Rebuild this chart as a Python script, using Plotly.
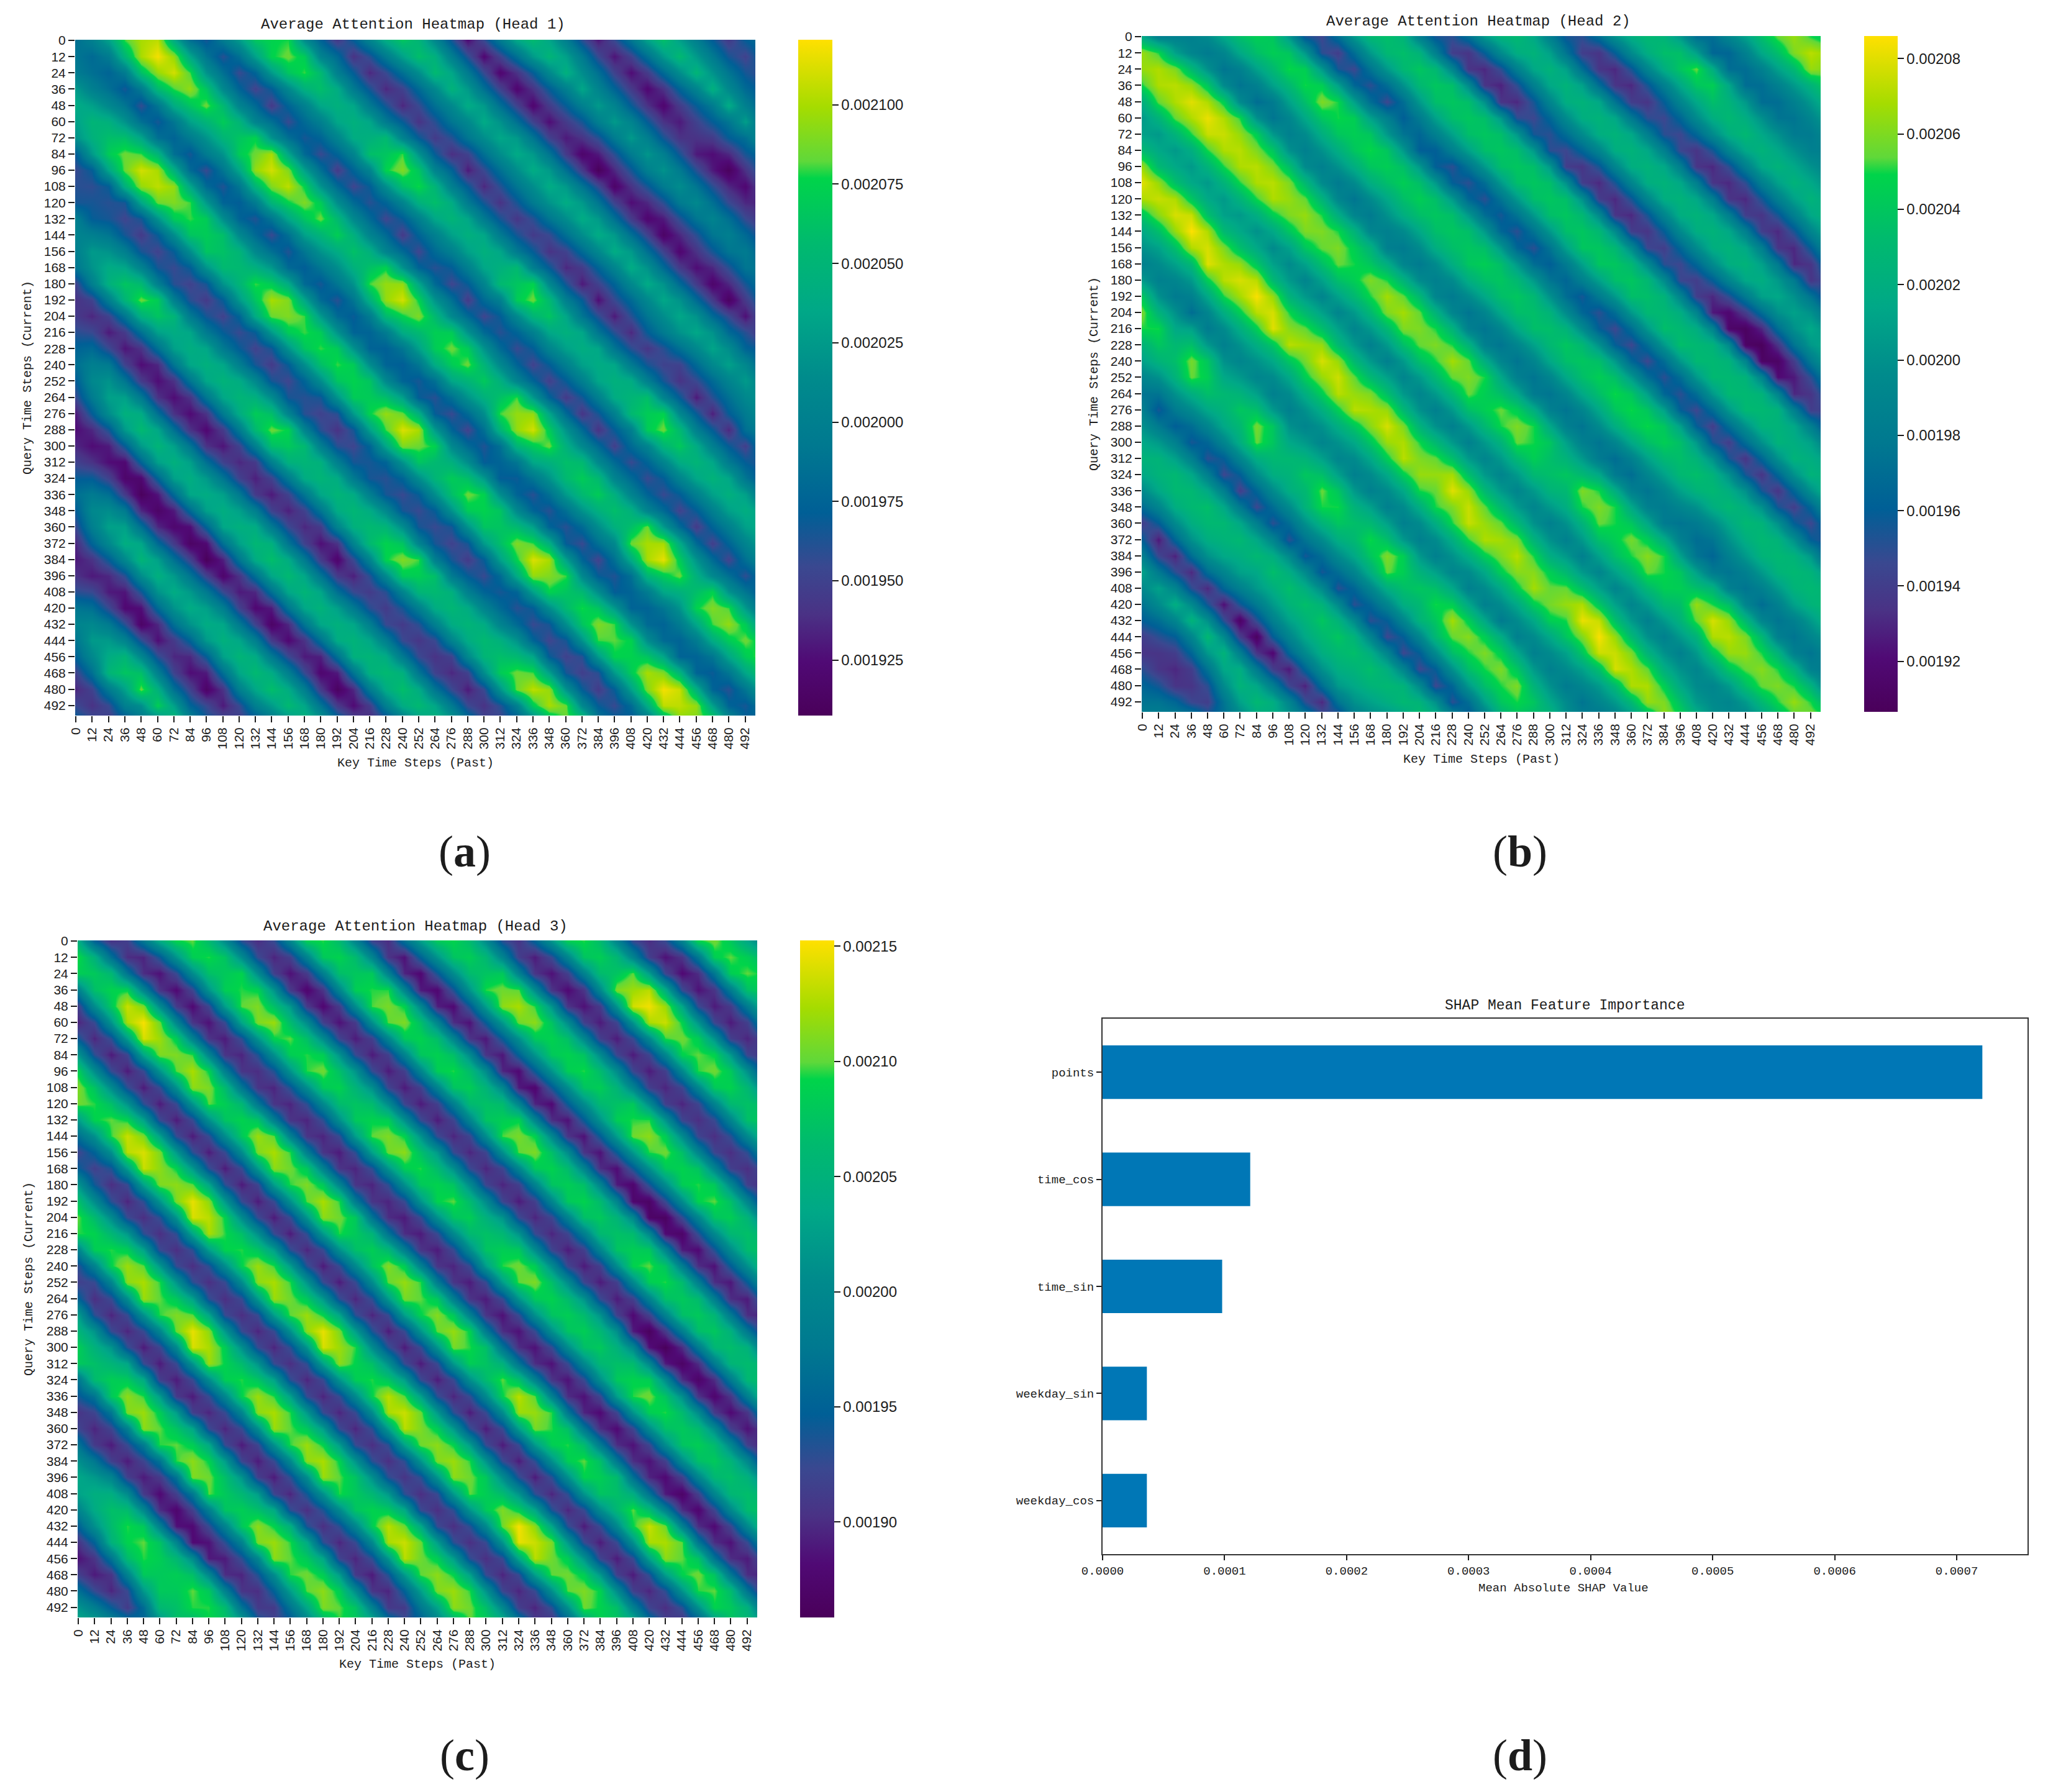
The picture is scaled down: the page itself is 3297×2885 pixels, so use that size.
import plotly.graph_objects as go

W, H = 3297, 2885
PAGE = 8
FW, FH = W - PAGE, H - PAGE
ML, MR, MT, MB = 60, 10, 30, 10
STEP = 12
N = 43
SAMPLE_POS = [i * STEP + 0.5 for i in range(N)]
TICK_POS = [i * 12 + 0.5 for i in range(42)]
TICK_TEXT = [str(i * 12) for i in range(42)]

# Readings per diagonal (column index minus row index), in millionths above a base value.
HEAD1_BASE = 1900
HEAD1 = {
-42:[75],-41:[55,60],-40:[35,40,45],-39:[50,50,55,60],-38:[75,85,95,100,90],
-37:[90,110,150,130,115,100],-36:[105,125,140,165,185,172,160],-35:[90,110,125,150,160,145,130,110],
-34:[60,85,95,105,110,100,85,75,70],-33:[40,55,55,60,60,60,50,50,55,60],
-32:[30,30,30,22,15,25,35,25,15,30,45],-31:[35,40,35,28,25,35,45,35,30,40,55,60],
-30:[55,75,70,60,65,80,85,75,70,85,100,100,90],-29:[70,100,110,110,115,120,120,120,125,130,135,135,125,115],
-28:[85,110,130,142,150,145,140,140,140,145,150,155,160,155,150],
-27:[70,95,115,130,135,130,125,125,130,135,135,140,140,140,135,130],
-26:[50,70,85,95,85,80,85,90,95,100,95,100,95,100,100,90,85],
-25:[35,40,50,45,35,35,45,50,50,55,50,50,45,55,55,45,45,55],
-24:[25,25,25,18,10,15,20,14,8,18,30,22,15,22,30,20,12,24,35],
-23:[30,35,30,22,20,28,30,25,22,32,40,35,30,35,40,32,30,35,45,50],
-22:[55,70,65,70,75,75,80,80,75,85,90,85,85,90,90,85,85,90,95,100,90],
-21:[70,95,115,125,125,130,130,135,130,135,130,140,135,135,135,135,140,145,145,140,140,125],
-20:[85,110,130,145,155,150,145,142,140,142,145,152,160,155,150,148,145,148,150,155,160,155,150],
-19:[75,100,120,130,140,135,130,130,125,130,130,140,145,140,135,135,130,135,135,140,145,140,135,130],
-18:[60,80,95,90,95,85,85,90,85,90,95,100,95,90,95,90,85,95,100,100,95,90,90,95,90],
-17:[45,55,55,50,45,40,40,40,40,50,50,45,50,55,50,45,45,55,60,55,55,55,50,55,55,55],
-16:[40,35,30,28,25,25,25,24,22,28,35,32,30,32,35,26,18,32,45,45,45,42,40,35,30,40,50],
-15:[50,50,50,45,40,35,40,40,40,45,50,45,50,50,50,45,40,55,60,60,65,60,55,50,50,55,60,65],
-14:[90,100,100,90,85,85,90,90,90,95,95,100,100,95,90,90,105,105,105,110,105,100,100,105,110,115,120,100,95],
-13:[100,120,145,150,145,130,130,135,135,135,140,155,160,145,140,135,140,145,155,175,170,150,140,140,140,150,170,185,170,150],
-12:[105,125,140,165,185,165,140,142,145,148,150,170,185,168,150,150,150,152,155,175,190,172,155,152,150,155,160,185,205,200,185],
-11:[100,100,120,135,155,170,150,135,135,135,140,145,160,175,155,145,140,140,140,150,165,180,160,145,140,140,145,155,180,195,185,175],
-10:[65,70,90,100,105,100,100,95,95,95,100,110,115,105,105,100,100,95,100,110,115,105,100,95,100,105,105,120,135,130,120,110,95],
-9:[60,65,65,65,65,65,60,60,65,70,70,65,65,65,60,60,60,65,65,65,65,65,65,65,70,75,80,80,75,70,65,70,70,75],
-8:[55,58,60,52,45,50,55,50,45,50,55,50,45,52,60,50,40,52,65,60,55,55,55,50,45,55,65,60,55,52,50,48,45,55,65],
-7:[70,70,70,65,65,70,70,70,65,70,75,70,65,70,75,65,60,65,75,75,75,70,70,65,65,70,80,75,70,65,65,60,60,70,80,85],
-6:[120,125,135,145,135,120,115,115,120,120,125,140,125,120,115,115,120,125,130,135,120,115,115,120,120,125,130,140,130,115,115,120,125,125,130,140,135],
-5:[130,145,170,185,195,185,170,165,165,155,150,165,185,170,165,160,165,170,175,180,190,165,150,160,170,165,160,175,195,175,155,165,180,175,170,190,205,190],
-4:[140,150,160,185,210,205,190,180,170,162,155,180,200,190,180,180,180,175,170,195,212,185,155,170,185,175,165,190,212,190,165,178,190,182,175,200,218,205,190],
-3:[125,130,145,160,180,200,195,180,170,160,150,145,170,190,180,170,170,170,165,160,185,200,175,145,160,175,165,155,180,200,180,155,165,180,175,165,190,208,195,180],
-2:[95,100,110,120,135,150,145,135,125,115,110,110,125,140,135,125,120,120,115,110,130,145,125,110,115,125,115,110,130,145,130,110,115,125,120,115,135,150,145,130,120],
-1:[90,85,85,90,85,85,85,80,80,75,75,80,85,80,80,80,80,75,75,75,75,70,70,75,80,70,70,75,75,75,70,75,70,70,75,80,80,75,75,75,75,75],
0:[85,80,75,65,57,65,75,65,55,62,70,62,55,62,70,65,60,68,75,72,70,65,60,55,50,62,75,68,60,60,60,55,50,62,75,75,75,75,75,68,60,65,70],
1:[100,95,95,95,90,90,95,95,90,90,95,90,85,90,90,90,90,95,95,90,90,85,85,80,85,85,90,90,85,85,80,85,85,85,95,90,95,95,90,90,90,90],
2:[130,150,160,155,140,130,120,120,135,150,150,135,130,120,115,120,145,155,140,130,140,135,120,115,150,150,135,120,125,120,115,110,140,150,135,120,135,140,135,135,130],
3:[180,200,195,180,165,150,150,170,195,190,175,165,150,140,145,180,195,175,155,170,170,150,145,180,195,170,145,155,155,145,145,185,200,170,145,175,180,170,170,165],
4:[200,218,210,195,185,170,165,185,210,205,190,185,172,162,162,195,210,190,172,185,185,168,162,195,210,185,160,170,170,160,160,200,215,185,160,190,195,185,185],
5:[205,195,180,165,155,150,175,200,190,175,170,155,145,145,175,195,175,155,170,170,150,145,180,195,170,145,155,155,145,145,185,200,170,145,175,180,170,170],
6:[140,135,120,110,105,105,120,135,130,120,115,110,105,105,120,135,120,110,120,120,110,105,125,135,120,110,110,105,105,105,125,140,120,110,120,125,120],
7:[85,90,85,75,80,85,85,80,85,80,80,80,80,80,75,80,85,80,80,80,75,75,75,80,80,80,80,80,75,80,80,80,80,85,90,85],
8:[65,60,55,50,45,55,65,55,45,52,60,52,45,52,60,52,45,52,60,55,50,48,45,42,40,48,55,55,55,50,45,48,50,58,65],
9:[95,85,75,70,75,80,75,75,75,70,75,70,75,80,70,70,80,70,75,70,70,70,65,65,70,80,75,70,70,70,75,75,85,85],
10:[125,130,125,110,100,100,105,105,105,115,105,100,100,100,100,105,100,110,100,105,100,100,100,100,100,105,105,105,100,100,100,105,110],
11:[165,175,165,145,135,135,140,160,175,160,145,135,130,130,135,155,170,150,135,130,130,135,140,155,170,150,140,135,130,130,130,130],
12:[175,185,180,160,145,145,145,165,190,178,160,150,145,145,145,165,185,165,145,142,140,145,150,170,185,168,150,148,145,142,140],
13:[178,170,155,140,135,135,155,180,165,150,140,135,135,135,155,175,155,135,135,135,135,140,160,175,155,140,135,135,130,130],
14:[115,105,100,95,95,95,105,120,105,100,95,95,95,95,100,110,100,90,90,90,95,100,105,110,100,100,95,90,90],
15:[75,80,70,65,65,70,70,70,75,70,65,65,65,70,70,65,70,60,60,60,65,65,70,70,70,70,70,65],
16:[45,40,35,35,35,40,45,38,30,35,40,42,45,40,35,30,25,30,35,42,50,40,30,32,35,48,60],
17:[70,60,55,50,55,60,60,50,55,60,65,60,55,50,45,50,55,60,70,60,50,55,60,70,85,90],
18:[105,95,85,80,85,90,90,85,85,90,95,90,85,80,75,75,80,90,95,85,80,80,85,95,100],
19:[140,130,115,110,110,110,115,115,115,115,120,115,115,110,105,110,110,115,120,110,110,105,110,115],
20:[165,160,155,148,140,138,135,138,140,140,140,140,140,140,140,138,135,135,135,133,130,125,120],
21:[150,145,135,125,125,120,125,125,125,125,125,125,125,125,120,120,120,120,120,115,110,105],
22:[110,100,95,85,85,85,90,90,85,90,90,85,85,85,80,80,80,80,80,75,75],
23:[65,60,55,50,50,50,50,45,45,55,50,45,50,50,45,45,45,55,60,65],
24:[25,22,20,20,20,25,30,18,8,16,25,20,15,20,25,18,12,26,40],
25:[55,50,40,40,45,45,40,30,35,40,35,30,35,40,35,35,45,60],
26:[95,85,70,70,70,65,60,60,65,65,60,60,60,65,60,65,75],
27:[135,125,110,100,100,100,95,95,100,95,95,90,90,90,90,90],
28:[155,150,145,135,125,125,125,122,120,115,110,105,100,95,90],
29:[135,130,115,105,105,105,100,100,95,90,85,85,80,75],
30:[100,95,85,75,70,70,65,65,60,60,55,55,55],
31:[60,55,50,45,40,40,40,30,30,35,35,40],
32:[30,28,25,22,20,30,40,25,10,22,35],
33:[55,50,45,40,45,50,45,35,40,50],
34:[90,85,80,75,70,70,70,65,70],
35:[130,125,115,105,95,90,85,80],
36:[160,155,150,145,140,128,115],
37:[130,125,120,110,100,85],
38:[100,95,90,80,75],
39:[70,65,65,65],
40:[45,50,55],
41:[70,75],
42:[85],
}

HEAD2_BASE = 1900
HEAD2 = {
-42:[85],-41:[75,85],-40:[65,75,85],-39:[50,55,65,85],-38:[35,35,35,45,60],-37:[40,35,30,35,40,70],
-36:[60,50,40,40,50,75,90],-35:[75,70,60,65,75,95,110,115],-34:[95,95,90,90,105,115,125,130,120],
-33:[110,110,120,125,130,125,120,115,120,105],-32:[85,80,90,95,100,95,85,80,85,90,85],
-31:[60,45,50,50,55,50,40,35,40,45,50,55],-30:[40,25,28,30,30,22,12,10,18,25,28,30,40],
-29:[70,60,65,70,70,65,55,50,60,65,65,70,75,80],-28:[95,90,95,100,100,90,85,80,85,90,95,100,105,100,95],
-27:[115,115,120,120,120,115,110,105,105,110,115,120,120,115,110,100],
-26:[125,125,130,130,130,125,120,115,120,125,125,130,130,125,125,120,110],
-25:[115,125,130,130,135,130,130,130,135,135,135,140,140,135,135,130,130,135],
-24:[100,105,110,115,115,115,115,115,120,120,120,125,125,125,120,120,125,125,125],
-23:[85,80,85,85,85,85,80,85,90,95,95,95,95,95,90,90,90,95,100,100],
-22:[75,55,60,55,50,45,40,45,50,50,55,55,50,50,50,45,45,45,45,50,55],
-21:[90,75,80,70,65,60,60,65,70,70,75,70,70,65,65,60,60,60,60,65,70,80],
-20:[110,100,100,95,90,90,90,95,95,95,100,95,95,90,90,90,90,90,95,100,105,110,120],
-19:[125,125,125,120,115,115,120,120,120,120,125,125,120,115,120,120,120,125,130,135,135,135,140,135],
-18:[150,140,135,155,135,125,130,155,130,125,130,150,140,130,140,155,135,130,140,155,150,150,150,150,130],
-17:[158,150,130,158,145,130,140,158,140,130,140,155,150,135,150,160,145,140,150,168,162,160,160,160,140,130],
-16:[140,125,115,135,140,115,125,135,140,115,125,135,140,125,130,135,145,125,135,145,145,145,145,140,125,115,100],
-15:[105,100,100,110,105,100,105,110,105,100,105,110,110,105,110,110,105,105,110,115,115,115,120,115,105,100,95,85],
-14:[85,85,80,70,80,85,90,90,85,85,90,90,90,85,85,85,85,85,85,90,85,85,80,85,85,85,80,75,75],
-13:[100,95,90,85,90,95,100,100,95,95,100,100,100,95,95,95,95,95,95,100,95,95,95,95,95,95,95,90,90,85],
-12:[115,110,110,105,115,120,120,120,115,115,120,120,120,115,115,115,115,120,120,120,120,115,115,115,115,115,110,110,105,105,100],
-11:[140,135,135,130,145,150,145,145,140,140,145,145,145,140,140,145,145,150,150,150,150,145,145,145,145,145,140,140,135,130,130,125],
-10:[170,162,165,170,180,172,168,172,180,172,158,165,172,172,162,166,172,165,155,160,175,170,160,162,168,158,150,160,176,178,170,165,165],
-9:[180,175,178,186,178,170,178,185,178,162,168,178,176,165,170,178,170,160,165,180,175,165,168,172,162,155,165,182,185,175,170,170,160,150],
-8:[165,165,170,175,170,160,165,172,165,150,155,165,165,155,160,165,160,150,155,168,165,155,155,160,150,145,155,170,175,165,160,155,145,135,125],
-7:[130,130,135,140,135,130,135,140,130,125,130,135,130,130,130,135,130,125,130,135,135,130,130,130,125,120,130,135,140,135,130,125,120,115,105,100],
-6:[110,115,115,115,115,110,115,115,110,105,105,110,110,105,105,110,105,100,100,105,105,105,105,105,100,100,105,105,110,110,105,100,100,100,95,95,95],
-5:[105,105,105,105,105,105,105,100,95,95,90,90,90,90,85,85,90,90,85,85,85,90,90,90,90,85,85,85,90,90,90,85,85,85,90,90,90,90],
-4:[120,125,125,120,125,125,125,120,115,110,110,110,110,105,105,105,105,105,105,105,105,105,105,105,105,105,100,105,110,110,105,105,105,105,105,110,105,105,105],
-3:[150,155,155,150,150,150,150,150,145,140,140,135,135,130,130,130,135,135,130,130,135,130,125,130,130,125,120,125,135,135,130,130,130,125,125,140,140,135,130,130],
-2:[165,170,170,170,175,170,170,170,170,160,160,155,155,145,150,160,160,155,150,155,155,145,150,155,145,135,130,150,155,145,150,155,145,135,155,170,165,155,155,150,150],
-1:[165,170,172,180,182,175,172,172,172,165,165,160,160,150,160,168,168,160,160,168,160,145,155,160,150,135,140,160,160,150,158,162,150,145,165,178,172,165,162,160,165,160],
0:[115,150,160,165,170,170,165,160,160,160,155,150,150,145,140,150,155,155,150,150,155,150,135,145,150,140,125,130,150,150,140,145,150,140,135,150,165,160,150,150,150,150,155],
1:[85,110,130,140,145,150,145,140,135,130,125,120,125,125,120,125,130,125,125,125,120,115,115,120,115,110,105,115,120,115,115,120,110,110,125,135,130,130,125,125,125,125],
2:[85,90,100,95,95,100,105,100,95,95,90,90,90,85,90,95,90,90,85,85,90,85,80,85,85,85,80,80,85,85,80,85,75,80,85,90,90,85,85,85,85],
3:[85,80,75,75,70,75,85,85,85,80,75,80,85,80,80,85,80,75,75,75,75,75,75,75,75,75,70,70,75,80,75,70,65,75,75,70,75,75,75,80],
4:[95,90,85,85,80,90,95,100,100,95,95,100,95,95,95,95,95,90,90,90,90,90,90,90,95,90,85,90,90,90,80,75,85,85,85,85,85,90,90],
5:[115,115,110,110,110,115,120,120,120,120,115,120,115,120,120,120,115,115,115,110,115,115,115,115,120,115,110,110,110,100,95,100,105,105,105,110,105,105],
6:[135,135,130,130,135,140,140,140,140,135,135,135,135,135,140,135,135,135,135,130,135,135,135,140,140,135,130,130,125,120,115,120,125,125,125,125,125],
7:[145,145,150,150,160,150,145,150,145,145,145,140,140,140,145,140,140,135,135,140,140,145,150,150,150,145,135,135,130,130,130,130,130,130,130,130],
8:[140,140,145,145,150,145,140,140,135,135,135,135,135,135,135,130,130,125,125,130,135,135,140,140,140,135,125,125,120,120,125,125,125,125,125],
9:[105,105,105,110,110,110,105,105,105,105,105,105,105,105,105,105,100,95,95,100,105,105,110,110,110,105,100,100,100,100,100,100,105,105],
10:[55,50,55,65,70,85,75,60,60,60,65,70,65,65,70,75,70,65,60,60,65,70,65,60,60,55,55,55,55,55,60,60,60],
11:[45,40,45,50,45,60,65,60,50,50,50,55,50,50,60,65,55,50,45,45,45,50,50,45,40,40,35,35,35,40,45,50],
12:[70,70,75,70,70,80,85,85,75,70,75,75,75,75,80,85,80,70,70,70,70,70,70,70,70,70,65,65,65,65,70],
13:[105,105,105,100,105,110,110,110,105,105,105,105,105,110,110,110,105,105,105,105,105,105,105,105,100,100,100,100,100,100],
14:[130,130,130,130,135,135,135,135,135,135,135,135,135,140,140,135,135,130,135,135,130,130,130,130,125,125,125,125,125],
15:[135,135,140,140,140,140,140,140,140,140,140,140,140,140,140,140,135,130,130,130,130,130,130,130,125,120,120,120],
16:[125,125,130,135,135,135,135,135,135,135,135,130,130,130,130,130,125,120,120,125,125,125,125,125,115,110,110],
17:[85,85,90,95,100,105,105,105,105,100,100,95,95,95,95,95,90,90,90,95,90,90,90,85,85,85],
18:[55,40,35,35,35,50,55,50,40,40,40,35,40,45,50,45,40,25,15,12,12,20,30,40,50],
19:[50,35,30,28,30,45,50,45,35,30,30,30,35,40,45,40,30,18,10,8,12,25,35,45],
20:[70,60,50,50,55,65,70,65,55,55,55,55,60,65,65,60,50,40,30,35,40,50,60],
21:[105,95,85,85,90,95,95,90,90,90,90,90,95,95,95,90,80,70,70,75,80,85],
22:[125,120,115,115,120,120,120,120,120,120,120,120,120,120,120,115,110,100,100,105,110],
23:[130,125,125,125,125,125,125,125,125,125,125,125,125,125,125,120,115,110,115,115],
24:[115,110,110,110,115,115,115,115,115,115,115,115,115,115,110,105,100,100,100],
25:[85,75,70,70,75,80,85,85,85,85,85,85,85,85,80,80,75,75],
26:[55,40,35,35,40,50,50,45,35,35,35,40,40,35,30,35,45],
27:[50,35,30,30,35,45,45,35,30,30,30,35,30,30,35,50],
28:[70,60,55,55,60,65,65,55,50,50,55,55,55,60,70],
29:[100,95,90,85,90,95,95,90,85,85,85,85,90,95],
30:[120,120,120,115,115,120,120,115,115,110,110,115,115],
31:[130,135,140,140,135,130,130,125,125,125,125,125],
32:[125,135,155,145,125,120,115,115,115,115,115],
33:[105,110,120,115,105,100,100,100,100,100],
34:[70,65,70,70,70,75,80,85,90],
35:[70,65,70,70,70,75,80,85],
36:[90,85,85,85,85,90,95],
37:[110,115,110,105,105,110],
38:[135,135,130,125,125],
39:[155,160,165,145],
40:[165,172,160],
41:[150,165],
42:[140],
}

HEAD3_BASE = 1800
HEAD3 = {
-42:[240],-41:[215,235],-40:[165,185,205],-39:[115,125,145,175],-38:[85,90,95,110,150],-37:[105,105,105,125,160,200],
-36:[150,150,170,190,220,260,270],-35:[195,210,250,265,280,280,270,250],-34:[230,240,265,290,295,280,280,295,290],
-33:[235,245,270,295,300,285,285,300,295,275],-32:[210,220,245,265,280,275,260,270,280,265,240],
-31:[170,175,195,205,200,190,195,205,200,190,170,150],-30:[120,110,115,115,110,100,85,80,90,100,105,110,120],
-29:[105,95,90,90,90,80,75,80,85,90,95,100,110,130],-28:[140,120,120,125,120,110,115,115,125,130,130,135,150,170,185],
-27:[175,170,175,185,180,170,170,175,185,190,190,195,205,225,235,240],
-26:[280,265,280,310,315,295,295,310,300,275,280,310,315,295,300,310,295],
-25:[285,270,285,315,320,300,300,315,305,280,285,315,320,300,305,315,300,280],
-24:[255,250,255,280,295,285,275,285,290,270,260,270,290,295,280,285,285,275,250],
-23:[225,215,215,235,240,225,225,235,240,225,215,225,240,250,240,235,225,205,190,180],
-22:[150,130,125,130,125,115,110,115,125,125,120,115,120,130,135,130,120,110,105,110,130],
-21:[115,100,95,95,90,90,90,90,95,95,90,90,90,95,100,100,95,95,90,95,110,140],
-20:[130,125,125,125,125,120,125,125,125,125,125,120,125,130,140,135,130,125,130,135,150,175,190],
-19:[195,190,195,205,210,195,200,215,205,195,195,205,210,200,205,210,200,195,200,215,220,225,230,230],
-18:[295,285,290,315,320,295,305,340,320,285,290,315,320,295,315,320,295,275,285,325,330,300,310,315,300],
-17:[300,290,295,320,325,300,310,345,325,290,295,320,325,300,320,325,300,280,290,330,335,305,315,320,305,285],
-16:[270,265,260,285,300,295,280,300,315,285,265,275,295,295,280,290,290,275,260,280,305,305,285,290,295,270,255],
-15:[215,205,205,220,230,220,215,230,235,220,210,215,230,230,220,225,225,215,210,220,240,240,225,225,230,215,200,190],
-14:[145,140,130,125,130,125,125,130,130,125,125,125,125,130,125,125,125,125,130,130,130,125,125,130,130,125,120,115,115],
-13:[120,115,100,95,100,100,100,100,100,100,100,95,95,100,95,95,95,95,100,100,105,100,100,100,100,100,95,95,95,100],
-12:[165,150,135,125,130,130,130,130,130,125,125,125,125,130,130,125,125,125,130,130,130,130,125,130,130,125,125,125,125,130,140],
-11:[225,210,210,225,230,215,215,235,225,205,205,220,225,210,215,230,215,200,205,225,230,215,215,220,215,200,215,235,225,210,210,215,205],
-10:[305,290,295,330,335,310,310,340,325,290,290,315,320,300,315,340,315,285,290,325,330,305,310,315,300,280,305,345,330,300,300,305,285],
-9:[310,295,300,335,340,315,315,345,330,295,295,320,325,305,320,345,320,290,295,330,335,310,315,320,305,285,310,350,335,305,305,310,290,275],
-8:[285,275,270,290,310,310,290,300,315,290,270,275,295,295,280,290,310,295,270,275,300,305,285,290,295,280,265,285,315,310,285,285,290,270,255],
-7:[215,205,205,215,230,230,220,220,235,220,205,210,225,225,215,220,235,225,205,210,225,230,220,220,225,215,205,215,235,235,220,215,220,205,190,175],
-6:[140,130,125,130,130,125,125,130,130,130,125,125,125,130,130,125,130,130,135,130,125,125,130,130,130,125,125,130,130,135,130,125,120,115,115,120,120],
-5:[95,95,90,90,90,90,90,90,90,90,90,90,90,90,95,90,90,95,95,90,90,90,90,95,90,90,90,90,90,95,95,90,90,90,90,95,100,100],
-4:[115,125,130,120,125,125,125,125,125,125,125,120,125,125,130,125,125,125,130,125,125,125,125,125,125,125,125,125,130,130,130,125,125,125,125,130,130,130,130],
-3:[190,205,215,225,235,215,210,215,210,205,205,220,225,210,215,220,210,200,205,220,225,215,215,220,210,200,205,225,220,210,210,215,205,200,210,230,225,215,210,205],
-2:[285,270,280,325,340,310,300,315,300,275,280,310,315,295,300,315,295,270,275,302,308,290,302,308,285,265,290,320,308,285,285,290,275,260,290,325,315,290,295,290,270],
-1:[295,280,290,335,350,320,310,325,310,285,290,320,325,305,310,325,305,280,285,312,318,300,312,318,295,275,300,330,318,295,295,300,285,270,300,335,325,300,305,300,280,260],
0:[245,250,260,290,310,305,285,295,290,265,260,275,300,295,280,280,295,280,255,260,285,295,280,280,290,270,250,270,300,295,270,265,270,265,245,265,305,300,275,275,265,250,235],
1:[150,165,170,195,205,195,190,195,185,175,175,185,190,185,190,195,180,170,170,185,190,180,185,190,180,170,170,190,190,175,175,180,175,165,170,190,190,175,170,175,170,165],
2:[105,100,100,105,110,105,105,105,105,105,105,105,105,105,105,105,105,100,100,105,105,105,105,105,100,100,100,105,100,95,100,100,100,95,90,100,100,100,100,100,100],
3:[115,95,85,80,80,85,90,95,100,95,95,95,95,90,95,95,95,90,90,90,95,90,90,85,85,85,85,85,85,80,80,85,85,80,70,75,80,85,90,95],
4:[175,140,125,120,120,125,130,135,135,135,130,130,125,130,130,130,125,125,125,125,125,125,125,125,125,125,125,125,120,120,120,120,115,115,115,120,120,125,130],
5:[240,215,205,215,225,235,215,210,215,205,200,210,225,230,215,210,215,210,200,205,225,225,215,210,210,205,200,210,225,215,205,205,205,195,195,200,200,200],
6:[290,285,270,285,300,310,290,285,295,280,265,280,300,305,285,280,290,275,262,275,295,300,280,275,275,270,260,280,295,285,270,275,270,260,258,265,270],
7:[300,295,280,295,310,320,300,295,305,290,275,290,310,315,295,290,300,285,272,285,305,310,290,285,285,280,270,290,305,295,280,285,280,270,268,275],
8:[265,275,290,290,270,265,270,285,270,255,265,285,290,270,265,275,265,250,260,280,285,270,265,265,260,250,265,285,275,265,265,265,255,250,255],
9:[205,205,205,215,220,205,205,215,215,210,205,210,215,220,210,205,205,215,215,205,205,205,215,215,210,200,200,205,210,205,205,200,200,200],
10:[130,125,115,110,110,115,120,125,125,120,120,125,125,125,125,120,120,125,125,120,120,120,125,115,90,85,90,100,105,110,115,115,115],
11:[100,95,85,75,78,85,90,90,90,90,90,90,95,95,95,95,90,95,95,90,90,90,90,80,62,60,68,70,75,80,85,90],
12:[125,115,110,105,110,110,115,115,115,115,115,120,120,120,120,115,115,120,120,115,115,115,115,115,110,100,100,100,105,105,110],
13:[195,190,185,195,205,210,195,190,195,190,185,195,205,210,195,190,195,190,185,195,205,200,190,190,185,180,180,180,185,185],
14:[285,280,268,285,298,300,280,278,285,275,262,275,298,300,280,275,280,270,262,275,290,285,270,270,268,258,255,260,265],
15:[295,290,278,295,308,310,290,288,295,285,272,285,308,310,290,285,290,280,272,285,300,295,280,280,278,268,265,270],
16:[265,265,280,295,290,270,268,270,265,255,265,290,290,270,265,270,265,255,265,280,275,265,265,258,250,250,255],
17:[195,195,190,195,200,195,195,205,205,200,195,195,200,205,195,195,195,200,200,195,185,185,185,180,175,175],
18:[120,105,95,90,92,100,105,105,95,90,95,100,105,105,100,90,75,70,80,90,100,100,100,100,110],
19:[100,85,78,78,80,85,88,88,80,75,80,85,85,85,82,75,68,65,70,80,85,88,90,95],
20:[165,150,140,135,140,145,145,150,145,140,145,145,145,145,140,135,125,125,130,135,145,145,150],
21:[225,215,205,215,225,220,210,215,215,205,205,215,225,220,210,205,205,195,200,205,210,215],
22:[280,275,265,295,315,305,280,280,285,275,262,285,305,295,280,285,290,275,260,265,270],
23:[290,285,275,305,325,315,290,290,295,285,272,295,315,305,290,295,300,285,270,275],
24:[265,260,280,300,295,275,270,275,265,255,280,295,285,270,275,280,270,255,255],
25:[205,195,190,205,215,205,200,205,205,195,205,215,205,195,195,200,195,190],
26:[130,115,105,105,105,115,115,120,120,115,115,120,120,120,115,115,115],
27:[105,90,85,80,85,90,90,90,90,95,95,100,100,100,100,100],
28:[150,125,115,105,110,120,125,120,115,120,120,125,130,130,130],
29:[215,195,190,200,215,215,200,195,200,195,190,195,200,200],
30:[285,275,265,310,338,325,295,290,295,280,262,270,260],
31:[295,285,275,320,348,335,305,300,305,290,272,280],
32:[265,260,300,330,320,290,285,290,280,260,265],
33:[195,195,225,245,235,215,215,220,210,200],
34:[125,115,120,125,125,120,115,120,125],
35:[100,85,80,85,90,90,95,105],
36:[125,105,100,105,110,115,120],
37:[190,175,175,180,180,190],
38:[290,285,285,270,250],
39:[305,300,300,285],
40:[280,285,290],
41:[235,260],
42:[190],
}

FEATURES = ["points", "time_cos", "time_sin", "weekday_sin", "weekday_cos"]
SHAP_VALUES = [0.000721, 0.000121, 0.000098, 0.0000363, 0.0000363]
SHAP_TICKS = [0.0, 0.0001, 0.0002, 0.0003, 0.0004, 0.0005, 0.0006, 0.0007]

TICKS_1 = [0.001925, 0.001950, 0.001975, 0.002000, 0.002025, 0.002050, 0.002075, 0.002100]
TICKS_2 = [0.00192, 0.00194, 0.00196, 0.00198, 0.00200, 0.00202, 0.00204, 0.00206, 0.00208]
TICKS_3 = [0.00190, 0.00195, 0.00200, 0.00205, 0.00210, 0.00215]

COLORSCALE = [
    [0.00, "#4A005A"], [0.08, "#500A75"], [0.15, "#4A3285"], [0.22, "#3A4890"],
    [0.30, "#005F96"], [0.40, "#007990"], [0.50, "#008B8C"], [0.60, "#00A887"],
    [0.70, "#00BA6E"], [0.795, "#00D44A"], [0.82, "#5FD83A"], [0.90, "#A5DC00"],
    [1.00, "#FFE000"],
]

MONO = "Liberation Mono, DejaVu Sans Mono, monospace"
NARROW = "Liberation Sans Narrow, Liberation Sans, sans-serif"
SANS = "Liberation Sans, sans-serif"
SERIF = "Liberation Serif, serif"
INK = "#1c1c1c"


def fx(px):
    return (px - PAGE - ML) / (FW - ML - MR)


def fy(py):
    return 1 - (py - PAGE - MT) / (FH - MT - MB)


def grid(diagonals, base):
    rows = []
    for r in range(N):
        row = []
        for c in range(N):
            values = diagonals[c - r]
            row.append((base + values[min(min(r, c), len(values) - 1)]) * 1e-6)
        rows.append(row)
    return rows


fig = go.Figure()

PANELS = [
    dict(diag=HEAD1, base=HEAD1_BASE, box=(121, 1216, 64, 1152), cbar=(1285, 1340), zr=(0.0019075, 0.0021205),
         ticks=TICKS_1, fmt=".6f", title="Average Attention Heatmap (Head 1)", title_xy=(665, 40),
         xlab_y=1228, ylab_x=44),
    dict(diag=HEAD2, base=HEAD2_BASE, box=(1838, 2931, 58, 1146), cbar=(3001, 3055), zr=(0.0019066, 0.0020860),
         ticks=TICKS_2, fmt=".5f", title="Average Attention Heatmap (Head 2)", title_xy=(2380, 34),
         xlab_y=1222, ylab_x=1762),
    dict(diag=HEAD3, base=HEAD3_BASE, box=(125, 1219, 1514, 2604), cbar=(1288, 1343), zr=(0.0018586, 0.0021525),
         ticks=TICKS_3, fmt=".5f", title="Average Attention Heatmap (Head 3)", title_xy=(669, 1491),
         xlab_y=2679, ylab_x=46),
]

annotations = []


def note(text, x, y, size, family=MONO, angle=0):
    annotations.append(dict(text=text, x=fx(x), y=fy(y), xref="paper", yref="paper", showarrow=False,
                            xanchor="center", yanchor="middle", textangle=angle,
                            font=dict(family=family, size=size, color=INK)))


for n, p in enumerate(PANELS, start=1):
    l, r, t, b = p["box"]
    suffix = "" if n == 1 else str(n)
    fig.add_trace(go.Heatmap(
        x=SAMPLE_POS, y=SAMPLE_POS, z=grid(p["diag"], p["base"]), zsmooth="best", xaxis="x" + suffix, yaxis="y" + suffix,
        zmin=p["zr"][0], zmax=p["zr"][1], colorscale=COLORSCALE, hoverinfo="skip",
        colorbar=dict(x=fx(p["cbar"][0]), xanchor="left", xpad=0, y=fy(t), yanchor="top", ypad=0,
                      len=b - t, lenmode="pixels", thickness=p["cbar"][1] - p["cbar"][0], thicknessmode="pixels",
                      outlinewidth=0, ticks="outside", ticklen=10, tickwidth=2, tickcolor=INK,
                      tickvals=p["ticks"], tickformat=p["fmt"],
                      tickfont=dict(family=SANS, size=24, color=INK)),
    ))
    axis_common = dict(range=[0, 500], tickvals=TICK_POS, ticktext=TICK_TEXT, ticks="outside", ticklen=10, tickwidth=2,
                       tickcolor=INK, showgrid=False, zeroline=False, showline=False,
                       tickfont=dict(family=NARROW, size=21, color=INK))
    fig.update_layout(**{
        "xaxis" + suffix: dict(axis_common, domain=[fx(l), fx(r)], anchor="y" + suffix, tickangle=-90),
        "yaxis" + suffix: dict(axis_common, domain=[fy(b), fy(t)], anchor="x" + suffix, range=[500, 0], tickangle=0),
    })
    note(p["title"], p["title_xy"][0], p["title_xy"][1], 24)
    note("Key Time Steps (Past)", (l + r) / 2, p["xlab_y"], 20)
    note("Query Time Steps (Current)", p["ylab_x"], (t + b) / 2, 20, angle=-90)

fig.add_trace(go.Bar(x=SHAP_VALUES, y=FEATURES, orientation="h", width=0.5, marker=dict(color="#0077B6", line=dict(width=0)),
                     xaxis="x4", yaxis="y4", hoverinfo="skip", showlegend=False))
fig.update_layout(
    xaxis4=dict(domain=[fx(1775), fx(3264)], anchor="y4", range=[0, 0.000758], tickvals=SHAP_TICKS, tickformat=".4f",
                ticks="outside", ticklen=8, tickwidth=2, tickcolor=INK, showgrid=False, zeroline=False,
                showline=True, linecolor="#333333", linewidth=2, mirror=True,
                tickfont=dict(family=MONO, size=19, color=INK)),
    yaxis4=dict(domain=[fy(2502), fy(1640)], anchor="x4", type="category", categoryorder="array",
                categoryarray=FEATURES, range=[4.5, -0.5], ticks="outside", ticklen=8, tickwidth=2, tickcolor=INK,
                showgrid=False, zeroline=False, showline=True, linecolor="#333333", linewidth=2, mirror=True,
                tickfont=dict(family=MONO, size=19, color=INK)),
)
note("SHAP Mean Feature Importance", 2519, 1619, 23)
note("Mean Absolute SHAP Value", 2517, 2557, 19)

for label, x, y in [("a", 748, 1371), ("b", 2447, 1371), ("c", 748, 2826), ("d", 2447, 2826)]:
    note("(<b>%s</b>)" % label, x, y, 72, family=SERIF)

fig.update_layout(width=FW, height=FH, margin=dict(l=ML, r=MR, t=MT, b=MB), paper_bgcolor="white", plot_bgcolor="white",
                  showlegend=False, annotations=annotations)
fig.write_html("out.html")
